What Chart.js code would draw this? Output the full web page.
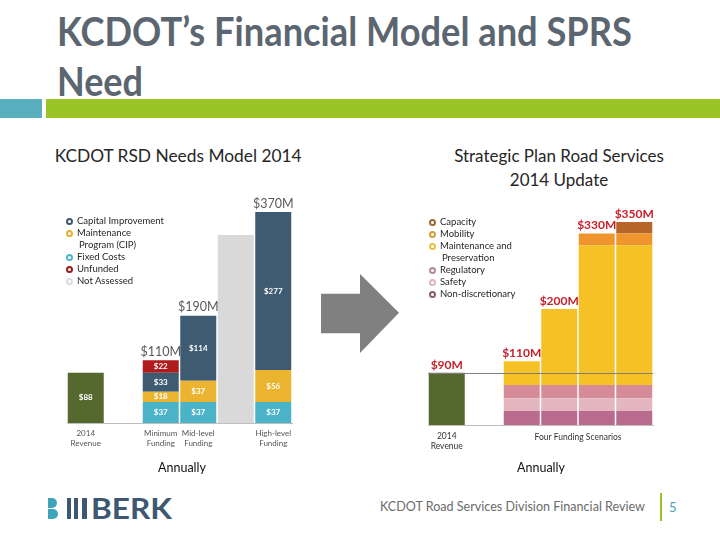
<!DOCTYPE html>
<html>
<head>
<meta charset="utf-8">
<script src="https://cdn.jsdelivr.net/npm/chart.js@4.4.1/dist/chart.umd.min.js"></script>
<style>
  body { margin: 0; width: 720px; height: 540px; background: #fff; position: relative; overflow: hidden; font-family: Lato, "Open Sans", sans-serif; }
  .abs { position: absolute; white-space: nowrap; }
  .title { font-weight: bold; font-size: 40px; line-height: 48px; color: #5b6670; left: 57px; transform-origin: 0 0; }
  .sub { font-size: 17px; line-height: 20px; color: #262626; }
  .legend { font-size: 9.5px; line-height: 12px; color: #262626; }
  .legend .dot { display: inline-block; width: 3px; height: 3px; border: 2px solid; border-radius: 50%; margin-right: 4px; vertical-align: -1px; }
  .annual { font-size: 12.5px; color: #111; }
  canvas { position: absolute; }
</style>
</head>
<body>

<div class="abs" style="left:0;top:99px;width:42px;height:19px;background:#5aafbf"></div>
<div class="abs" style="left:46px;top:99px;width:674px;height:19px;background:#9bc426"></div>

<div class="abs title fit" data-w="575" style="top:7px">KCDOT’s Financial Model and SPRS</div>
<div class="abs title fit" data-w="86" style="top:57px">Need</div>

<div class="abs sub fit" data-w="247" style="left:57px;top:146px">KCDOT RSD Needs Model 2014</div>
<div class="abs sub" style="left:445px;top:144px;width:228px;text-align:center;line-height:24px">Strategic Plan Road Services<br>2014 Update</div>

<canvas id="left" width="280" height="290" style="left:40px;top:185px"></canvas>
<canvas id="right" width="290" height="290" style="left:400px;top:185px"></canvas>

<div class="abs legend" id="legL" style="left:66px;top:215px"></div>
<div class="abs legend" id="legR" style="left:429px;top:216px"></div>

<div class="abs" style="left:321px;top:274px;width:78px;height:79px;background:#808080;clip-path:polygon(0 25%,50% 25%,50% 0,100% 49%,50% 100%,50% 75%,0 75%)"></div>

<div class="abs annual" style="left:152px;top:460px;width:60px;text-align:center">Annually</div>
<div class="abs annual" style="left:511px;top:460px;width:60px;text-align:center">Annually</div>

<!-- footer -->
<div class="abs" style="left:48px;top:498px;width:9px;height:10px;background:#3fa3bc;border-radius:0 5px 5px 0"></div>
<div class="abs" style="left:48px;top:509px;width:10px;height:10px;background:#3fa3bc;border-radius:0 5px 5px 0"></div>
<div class="abs" style="left:67px;top:498px;width:4px;height:21px;background:#3d5870"></div>
<div class="abs" style="left:74px;top:498px;width:4px;height:21px;background:#3d5870"></div>
<div class="abs" style="left:82px;top:498px;width:5px;height:21px;background:#3d5870"></div>
<div class="abs fit" data-w="81" style="left:91px;top:492px;font:bold 29px/32px Lato,sans-serif;color:#3d5870;transform-origin:0 0">BERK</div>
<div class="abs fit" data-w="265" style="left:380px;top:498px;font:13px/16px Lato,sans-serif;color:#6b6b6b;transform-origin:0 0">KCDOT Road Services Division Financial Review</div>
<div class="abs" style="left:660px;top:493px;width:2px;height:28px;background:#9bc426"></div>
<div class="abs" style="left:669px;top:499px;font:13px/16px Lato,sans-serif;color:#4aa3b3">5</div>

<script>
// ---------- left chart: KCDOT RSD Needs Model 2014 ----------
const leftCats = [['2014', 'Revenue'], '', ['Minimum', 'Funding'], ['Mid-level', 'Funding'], '', ['High-level', 'Funding']];
const leftRevenue     = [88, null, null, null, null, null];
const leftFixed       = [null, null, 37, 37, null, 37];
const leftMaintenance = [null, null, 18, 37, null, 56];
const leftCapital     = [null, null, 33, 114, null, 277];
const leftUnfunded    = [null, null, 22, null, null, null];
const leftNotAssessed = [null, null, null, null, 330, null];
const leftTotals      = [null, null, 110, 190, null, 370];

// ---------- right chart: Strategic Plan Road Services 2014 Update ----------
const rightCats = [['2014', 'Revenue'], '', '', '', '', ''];
const rightRevenue     = [90, null, null, null, null, null];
const rightNonDisc     = [null, null, 24, 24, 24, 24];
const rightSafety      = [null, null, 22, 22, 22, 22];
const rightRegulatory  = [null, null, 23, 23, 23, 23];
const rightMaintenance = [null, null, 41, 131, 241, 241];
const rightMobility    = [null, null, null, null, 20, 20];
const rightCapacity    = [null, null, null, null, null, 20];
const rightTotals      = [90, null, 110, 200, 330, 350];
const scenarioLabel = 'Four Funding Scenarios';

const leftLegend = [
  ['Capital Improvement', '#3d5a70'],
  ['Maintenance', '#e6b030'],
  ['Program (CIP)', null],
  ['Fixed Costs', '#4fb5c8'],
  ['Unfunded', '#9b1b1b'],
  ['Not Assessed', '#dcdcdc']
];
const rightLegend = [
  ['Capacity', '#9c6a2c'],
  ['Mobility', '#d0a03a'],
  ['Maintenance and', '#e6c240'],
  ['Preservation', null],
  ['Regulatory', '#b08a96'],
  ['Safety', '#dcb6bf'],
  ['Non-discretionary', '#8a5c76']
];

function fillLegend(id, items) {
  document.getElementById(id).innerHTML = items.map(([t, c]) =>
    c ? '<div><span class="dot" style="border-color:' + c + '"></span>' + t + '</div>'
      : '<div style="padding-left:13px">' + t + '</div>').join('');
}
fillLegend('legL', leftLegend);
fillLegend('legR', rightLegend);

document.querySelectorAll('.fit').forEach(el => {
  const w = el.getBoundingClientRect().width;
  el.style.transform = 'scaleX(' + (el.dataset.w / w) + ')';
});

Chart.defaults.font.family = 'Lato, sans-serif';
Chart.defaults.animation = false;

const barLabels = {
  id: 'barLabels',
  afterDatasetsDraw(chart, args, opts) {
    const ctx = chart.ctx;
    const y = chart.scales.y, x = chart.scales.x;
    ctx.save();
    ctx.textAlign = 'center';
    ctx.textBaseline = 'middle';
    if (opts.line != null) {
      const py = Math.round(y.getPixelForValue(opts.line)) + 0.5;
      ctx.strokeStyle = '#7f7f7f';
      ctx.lineWidth = 1;
      ctx.beginPath();
      ctx.moveTo(chart.chartArea.left, py);
      ctx.lineTo(chart.chartArea.right, py);
      ctx.stroke();
    }
    ctx.font = 'bold 8px Lato, sans-serif';
    ctx.fillStyle = '#fff';
    chart.data.datasets.forEach((ds, i) => {
      if (!ds.showValues) return;
      chart.getDatasetMeta(i).data.forEach((bar, j) => {
        if (!ds.data[j]) return;
        const c = bar.getCenterPoint();
        ctx.fillText('$' + ds.data[j], c.x, c.y);
      });
    });
    ctx.font = opts.totalFont;
    ctx.fillStyle = opts.totalColor;
    opts.totals.forEach((t, j) => {
      if (t == null) return;
      ctx.fillText('$' + t + 'M', x.getPixelForValue(j), y.getPixelForValue(t) - 8);
    });
    if (opts.groupLabel) {
      ctx.font = '8.5px Lato, sans-serif';
      ctx.fillStyle = '#333';
      const gx = (x.getPixelForValue(2) + x.getPixelForValue(5)) / 2;
      ctx.fillText(opts.groupLabel, gx, chart.chartArea.bottom + 12);
    }
    ctx.restore();
  }
};

function bar(label, data, color, showValues) {
  return { label, data, backgroundColor: color, stack: 's', showValues,
           barPercentage: 0.96, categoryPercentage: 1 };
}

function scalesFor(tickSize, tickColor) {
  return {
    x: {
      stacked: true,
      grid: { display: false, drawTicks: false },
      border: { display: true, color: '#bfbfbf' },
      ticks: { autoSkip: false, maxRotation: 0, padding: 6, color: tickColor, font: { size: tickSize } },
      afterFit: s => { s.height = 48; }
    },
    y: { stacked: true, display: false, min: 0, max: 400 }
  };
}

new Chart(document.getElementById('left'), {
  type: 'bar',
  data: {
    labels: leftCats,
    datasets: [
      bar('2014 Revenue', leftRevenue, '#55692f', true),
      bar('Fixed Costs', leftFixed, '#4bb3c8', true),
      bar('Maintenance', leftMaintenance, '#eab431', true),
      bar('Capital Improvement Program (CIP)', leftCapital, '#3f5b72', true),
      bar('Unfunded', leftUnfunded, '#b01c1c', true),
      bar('Not Assessed', leftNotAssessed, '#d9d9d9', false)
    ]
  },
  options: {
    responsive: false,
    layout: { padding: { left: 27, right: 28, top: 10, bottom: 4 } },
    plugins: {
      legend: { display: false },
      tooltip: { enabled: false },
      barLabels: { totals: leftTotals, totalColor: '#595959', totalFont: '12.5px Lato, sans-serif' }
    },
    scales: scalesFor(8, '#555')
  },
  plugins: [barLabels]
});

new Chart(document.getElementById('right'), {
  type: 'bar',
  data: {
    labels: rightCats,
    datasets: [
      bar('2014 Revenue', rightRevenue, '#55692f', false),
      bar('Non-discretionary', rightNonDisc, '#b96b8e', false),
      bar('Safety', rightSafety, '#e4b6c0', false),
      bar('Regulatory', rightRegulatory, '#d58b98', false),
      bar('Maintenance and Preservation', rightMaintenance, '#f6c125', false),
      bar('Mobility', rightMobility, '#f0952e', false),
      bar('Capacity', rightCapacity, '#b8652a', false)
    ]
  },
  options: {
    responsive: false,
    layout: { padding: { left: 28, right: 37, top: 8, bottom: 2 } },
    plugins: {
      legend: { display: false },
      tooltip: { enabled: false },
      barLabels: { totals: rightTotals, totalColor: '#c8202a', totalFont: 'bold 12px Lato, sans-serif',
                   line: rightRevenue[0], groupLabel: scenarioLabel }
    },
    scales: scalesFor(8.5, '#333')
  },
  plugins: [barLabels]
});
</script>
</body>
</html>
